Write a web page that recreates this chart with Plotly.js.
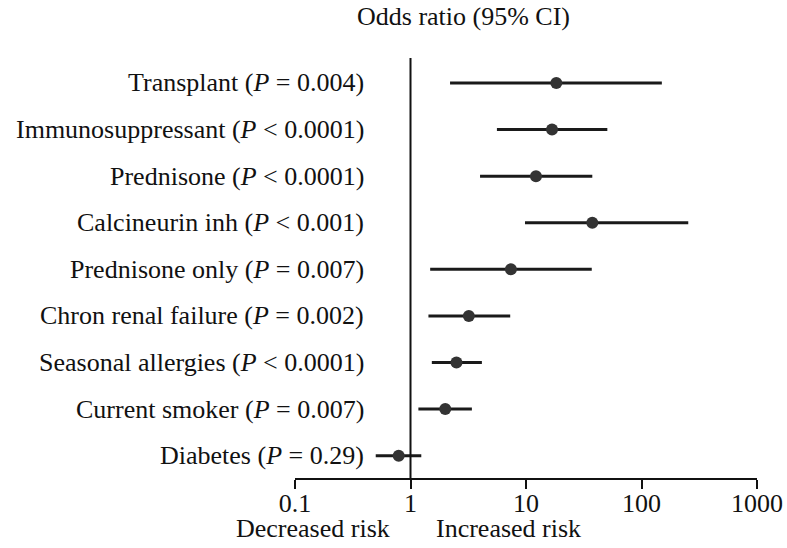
<!DOCTYPE html>
<html><head><meta charset="utf-8">
<script src="https://cdn.plot.ly/plotly-3.0.1.min.js"></script>
<style>html,body{margin:0;padding:0;background:#fff}</style>
</head><body><div id="chart" style="width:787px;height:548px"></div>
<script>
const categories = ["Transplant", "Immunosuppressant", "Prednisone", "Calcineurin inh", "Prednisone only", "Chron renal failure", "Seasonal allergies", "Current smoker", "Diabetes"];
const pText = ["= 0.004", "< 0.0001", "< 0.0001", "< 0.001", "= 0.007", "= 0.002", "< 0.0001", "= 0.007", "= 0.29"];
const oddsRatio = [18.3, 16.8, 12.2, 37.5, 7.4, 3.2, 2.5, 2.0, 0.79];
const ciLow = [2.2, 5.6, 4.0, 9.8, 1.48, 1.43, 1.53, 1.17, 0.50];
const ciHigh = [150, 50.6, 37.5, 254, 37.1, 7.3, 4.15, 3.4, 1.24];
const tickVals = [0.1, 1, 10, 100, 1000];
const tickLabels = ["0.1", "1", "10", "100", "1000"];

const n = categories.length;
const yPos = categories.map((c, i) => n - 1 - i);
const font = "Liberation Serif, Times New Roman, serif";
const fs = 26;

const trace = {
  type: "scatter", mode: "markers",
  x: oddsRatio, y: yPos,
  marker: {color: "#333333", size: 12},
  error_x: {
    type: "data", symmetric: false,
    array: oddsRatio.map((v, i) => ciHigh[i] - v),
    arrayminus: oddsRatio.map((v, i) => v - ciLow[i]),
    color: "#1a1a1a", thickness: 3, width: 0
  },
  hoverinfo: "skip", showlegend: false
};

const annotations = categories.map((c, i) => ({
  xref: "paper", yref: "y", x: 0.153, y: yPos[i], xanchor: "right", yanchor: "middle",
  text: c + " (<i>P</i> " + pText[i] + ")", showarrow: false,
  font: {family: font, size: fs, color: "#111"}
}));
annotations.push({xref: "paper", yref: "paper", x: 0.364, y: 1, yshift: 42, xanchor: "center", yanchor: "middle",
  text: "Odds ratio (95% CI)", showarrow: false, font: {family: font, size: fs, color: "#111"}});
annotations.push({xref: "paper", yref: "paper", x: 0.039, y: 0, yshift: -50, xanchor: "center", yanchor: "middle",
  text: "Decreased risk", showarrow: false, font: {family: font, size: fs, color: "#111"}});
annotations.push({xref: "paper", yref: "paper", x: 0.463, y: 0, yshift: -50, xanchor: "center", yanchor: "middle",
  text: "Increased risk", showarrow: false, font: {family: font, size: fs, color: "#111"}});

const layout = {
  width: 787, height: 548,
  margin: {l: 295, r: 30, t: 58, b: 70},
  paper_bgcolor: "#fff", plot_bgcolor: "#fff",
  xaxis: {
    type: "log", range: [-1, 3], tickvals: tickVals, ticktext: tickLabels,
    showline: true, linecolor: "#111", linewidth: 2, ticks: "outside", ticklen: 9, tickwidth: 2, tickcolor: "#111",
    ticklabelstandoff: -8,
    showgrid: false, zeroline: false, tickfont: {family: font, size: fs, color: "#111"}
  },
  yaxis: {range: [-0.479, 8.536], showticklabels: false, showgrid: false, zeroline: false, showline: false, ticks: ""},
  shapes: [{type: "line", xref: "x", yref: "paper", x0: 1, x1: 1, y0: 0, y1: 1, line: {color: "#111", width: 2}}],
  annotations: annotations
};

Plotly.newPlot("chart", [trace], layout, {displayModeBar: false, staticPlot: true});
</script></body></html>
